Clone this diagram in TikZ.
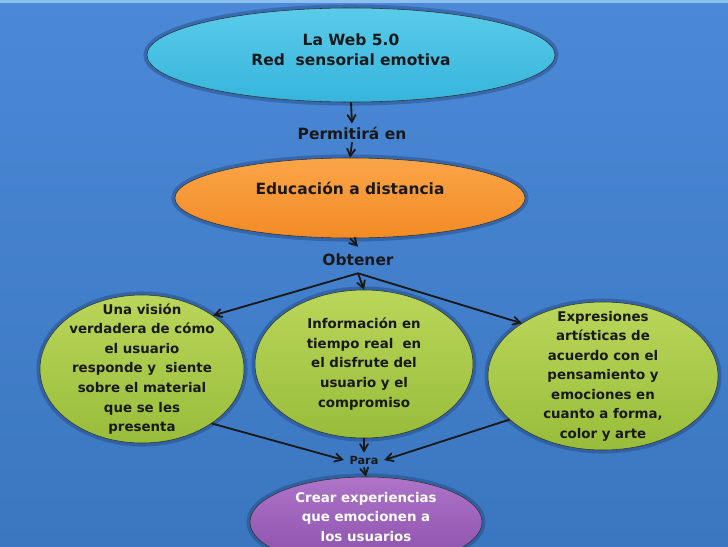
\documentclass[tikz,border=0pt]{standalone}
\usepackage{fontspec}
\setmainfont{DejaVu Sans}
\usepackage{xcolor}
\usetikzlibrary{arrows}
\usetikzlibrary{shapes.geometric}

\definecolor{fondoA}{HTML}{4B88D6}
\definecolor{fondoB}{HTML}{3B77C0}
\definecolor{fondoC}{HTML}{8BC0F0}
\definecolor{sombra}{HTML}{15356A}
\definecolor{cianA}{HTML}{5ACBEA}
\definecolor{cianB}{HTML}{36B5DC}
\definecolor{naranjaA}{HTML}{FBA548}
\definecolor{naranjaB}{HTML}{F28B25}
\definecolor{verdeA}{HTML}{BAD65A}
\definecolor{verdeB}{HTML}{98BD3A}
\definecolor{moradoA}{HTML}{AE74C8}
\definecolor{moradoB}{HTML}{8A4FAB}

\tikzset{
	burbuja/.style={ellipse, draw=black!80, line width=0.4pt, inner sep=0pt,
		preaction={draw=sombra, line width=5pt, opacity=0.35}},
	texto/.style={align=center, inner sep=0pt, text=black!90,
		font=\bfseries\fontsize{9.5}{13.9}\selectfont},
	enlace/.style={inner sep=2pt, text=black!90,
		font=\bfseries\fontsize{11}{14}\selectfont},
	flecha/.style={->, line width=1.3pt, black!90}
}

\begin{document}
\begin{tikzpicture}[x=0.025cm, y=-0.025cm, >=angle 60]
	\useasboundingbox (0, 0) rectangle (728, 546);
	\clip (0, 0) rectangle (728, 546);
	\shade[top color=fondoA, bottom color=fondoB] (0, 0) rectangle (728, 546);
	\fill[fondoC] (0, 0) rectangle (728, 3);
	
	% elipses
	\node[burbuja, top color=cianA, bottom color=cianB, minimum width=10.2cm, minimum height=2.35cm] (web) at (351, 55) {};
	\node[burbuja, top color=naranjaA, bottom color=naranjaB, minimum width=8.75cm, minimum height=2cm] (edu) at (350, 198) {};
	\node[burbuja, top color=verdeA, bottom color=verdeB, minimum width=5.1cm, minimum height=3.7cm] (vis) at (142, 369) {};
	\node[burbuja, top color=verdeA, bottom color=verdeB, minimum width=5.45cm, minimum height=3.7cm] (inf) at (364, 364) {};
	\node[burbuja, top color=verdeA, bottom color=verdeB, minimum width=5.75cm, minimum height=3.7cm] (art) at (603, 376) {};
	\node[burbuja, top color=moradoA, bottom color=moradoB, minimum width=5.8cm, minimum height=2.25cm] (crea) at (366, 522) {};
	
	% textos
	\node[texto, font=\bfseries\fontsize{11}{14.2}\selectfont] (webT) at (351, 50) {La Web 5.0\\Red\ \ sensorial emotiva};
	\node[texto, font=\bfseries\fontsize{11}{14}\selectfont] (eduT) at (350, 188) {Educación a distancia};
	\node[texto] (visT) at (vis) {Una visión\\verdadera de cómo\\el usuario\\responde y\ \ siente\\sobre el material\\que se les\\presenta};
	\node[texto] (infT) at (inf) {Información en\\tiempo real\ \ en\\el disfrute del\\usuario y el\\compromiso};
	\node[texto] (artT) at (art) {Expresiones\\artísticas de\\acuerdo con el\\pensamiento y\\emociones en\\cuanto a forma,\\color y arte};
	\node[texto, text=white] (creaT) at (366, 517) {Crear experiencias\\que emocionen a\\los usuarios};
	
	% enlaces
	\node[enlace] (perm) at (352, 133) {Permitirá en};
	\node[enlace, inner ysep=5pt] (obt) at (358, 260) {Obtener};
	\node[enlace, inner xsep=4pt, font=\bfseries\fontsize{8}{10}\selectfont] (para) at (364, 460) {Para};
	
	\draw[flecha] (web.south) -- (perm.north);
	\draw[flecha] (perm.south) -- (edu.north);
	\draw[flecha] (edu.south) -- (obt.north);
	\draw[flecha] (obt.south) -- (vis.37);
	\draw[flecha] (obt.south) -- (inf.north);
	\draw[flecha] (obt.south) -- (art.147);
	\draw[flecha] (vis.-38) -- (para.west);
	\draw[flecha] (inf.south) -- (para.north);
	\draw[flecha] (art.205) -- (para.east);
	\draw[flecha] (para.south) -- (crea.north);
\end{tikzpicture}
\end{document}
